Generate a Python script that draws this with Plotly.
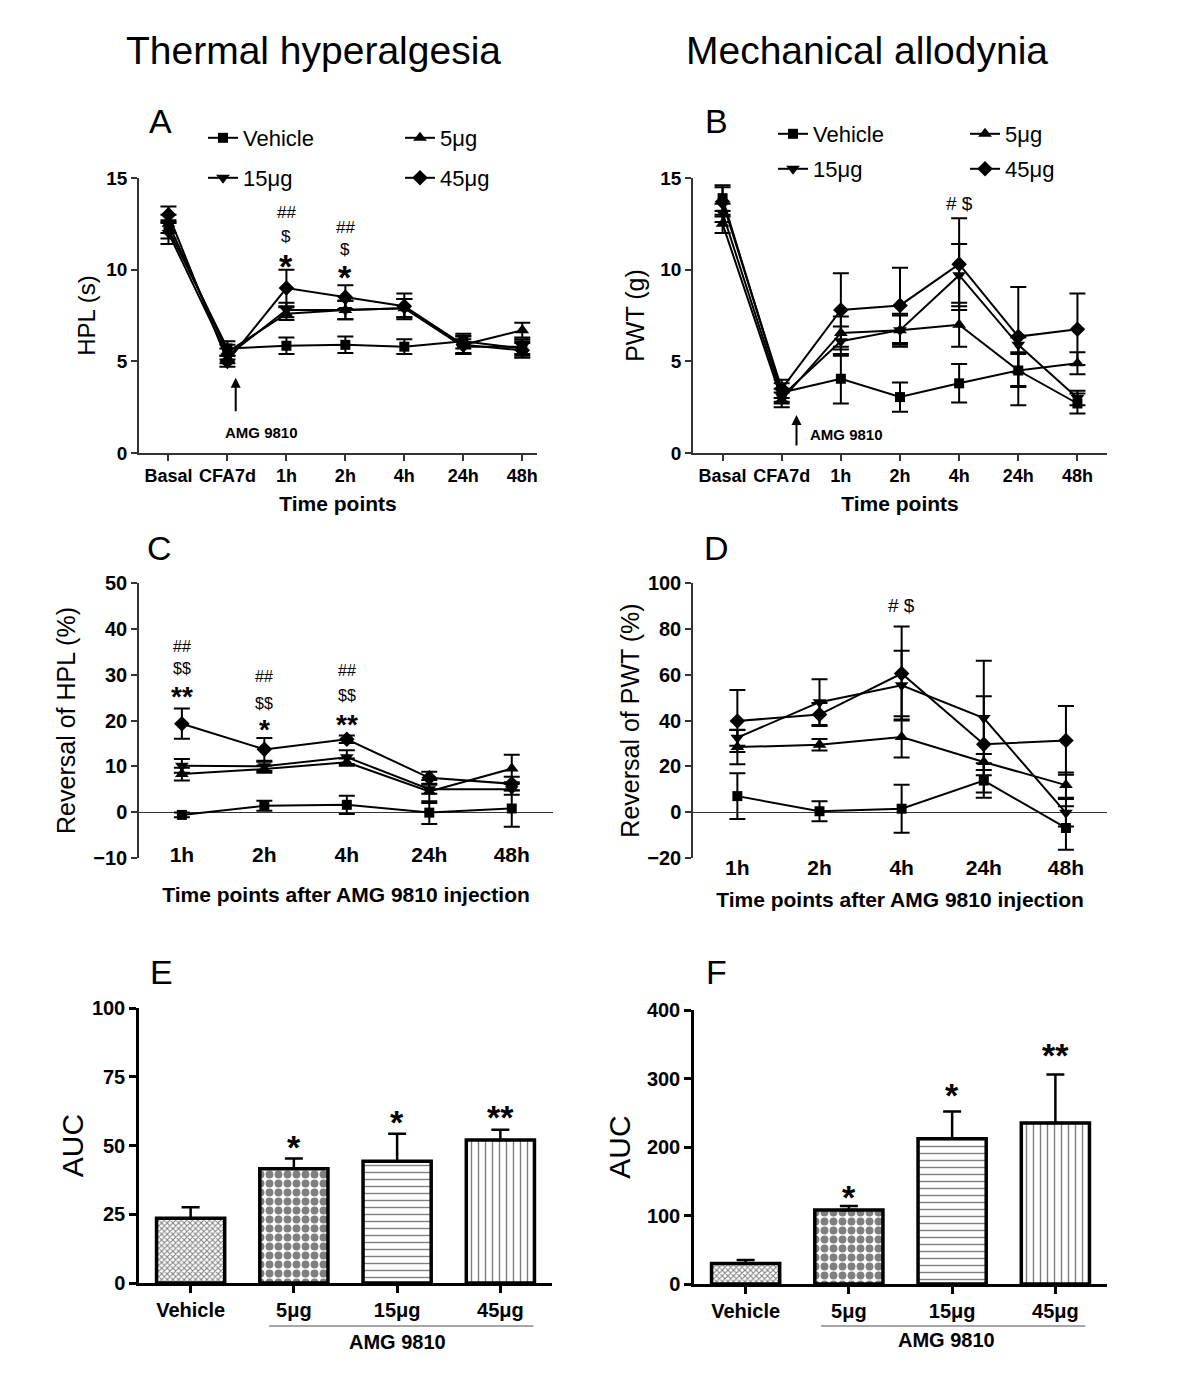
import plotly.graph_objects as go

# ---------------- data ----------------
time_ab = ["Basal", "CFA7d", "1h", "2h", "4h", "24h", "48h"]
time_cd = ["1h", "2h", "4h", "24h", "48h"]
groups = ["Vehicle", "5μg", "15μg", "45μg"]
symbols = ["square", "triangle-up", "triangle-down", "diamond"]

# Panel A: HPL (s)
hpl_vehicle = [12.2, 5.7, 5.85, 5.9, 5.8, 6.1, 5.7]
hpl_5 = [12.5, 5.5, 7.6, 7.8, 7.9, 5.9, 6.7]
hpl_15 = [12.0, 5.3, 7.8, 7.8, 7.9, 5.8, 5.8]
hpl_45 = [13.0, 5.0, 9.0, 8.5, 8.0, 5.9, 5.6]
hpl_vehicle_err = [0.5, 0.4, 0.45, 0.45, 0.4, 0.4, 0.4]
hpl_5_err = [0.5, 0.4, 0.35, 0.5, 0.5, 0.5, 0.4]
hpl_15_err = [0.6, 0.4, 0.4, 0.5, 0.5, 0.4, 0.4]
hpl_45_err = [0.45, 0.3, 1.0, 0.65, 0.7, 0.45, 0.4]

# Panel B: PWT (g)
pwt_vehicle = [13.9, 3.3, 4.05, 3.05, 3.8, 4.5, 2.7]
pwt_5 = [12.5, 2.9, 6.55, 6.7, 7.0, 4.5, 4.9]
pwt_15 = [13.1, 3.1, 6.1, 6.7, 9.7, 5.9, 3.0]
pwt_45 = [13.7, 3.5, 7.8, 8.05, 10.3, 6.35, 6.75]
pwt_vehicle_err = [0.7, 0.5, 1.35, 0.8, 1.05, 1.9, 0.55]
pwt_5_err = [0.5, 0.4, 0.9, 0.8, 1.2, 0.9, 0.6]
pwt_15_err = [0.5, 0.4, 0.8, 0.9, 1.7, 0.4, 0.4]
pwt_45_err = [0.8, 0.5, 2.0, 2.05, 2.5, 2.7, 1.95]

# Panel C: reversal of HPL (%)
rhpl_vehicle = [-0.6, 1.4, 1.6, -0.1, 0.8]
rhpl_5 = [8.3, 9.4, 10.9, 4.5, 9.5]
rhpl_15 = [10.1, 10.0, 12.0, 5.0, 5.0]
rhpl_45 = [19.3, 13.7, 15.9, 7.5, 6.2]
rhpl_vehicle_err = [0.5, 1.1, 2.0, 2.5, 4.0]
rhpl_5_err = [1.4, 0.8, 0.8, 2.5, 3.0]
rhpl_15_err = [1.5, 1.0, 1.5, 1.0, 1.2]
rhpl_45_err = [3.3, 2.5, 0.8, 1.3, 1.5]

# Panel D: reversal of PWT (%)
rpwt_vehicle = [7.0, 0.4, 1.5, 13.8, -6.9]
rpwt_5 = [28.4, 29.4, 32.8, 21.9, 11.8]
rpwt_15 = [32.5, 48.0, 55.4, 41.1, -0.3]
rpwt_45 = [39.8, 42.6, 60.5, 29.6, 31.3]
rpwt_vehicle_err = [10.0, 4.4, 10.5, 7.5, 9.5]
rpwt_5_err = [7.5, 2.5, 9.0, 3.5, 5.5]
rpwt_15_err = [3.5, 10.0, 15.0, 25.0, 6.0]
rpwt_45_err = [13.5, 5.0, 20.5, 21.0, 15.0]

# Panels E, F: AUC
auc_hpl = [23.5, 41.5, 44.3, 52.0]
auc_hpl_err = [4.0, 3.8, 10.0, 3.7]
auc_pwt = [30, 108, 212, 235]
auc_pwt_err = [5, 6, 40, 71]

# significance marks
sig_a = [("1h", ["##", "$", "*"]), ("2h", ["##", "$", "*"])]
sig_c = [("1h", ["##", "$$", "**"]), ("2h", ["##", "$$", "*"]), ("4h", ["##", "$$", "**"])]
sig_e = ["", "*", "*", "**"]
sig_f = ["", "*", "*", "**"]

# ---------------- layout helpers ----------------
W, H = 1200, 1400
FONT = "Arial, 'Liberation Sans', sans-serif"
PAGE_OFFSET = 8  # default page margin around the plot div


def fx(p):
    return (p - PAGE_OFFSET) / W


def fy(p):
    return 1 - (p - PAGE_OFFSET) / H


fig = go.Figure()


def add_lines(xs, series, errs, xa, ya, legends=None):
    for i, (name, sym, y, e) in enumerate(zip(groups, symbols, series, errs)):
        if legends:
            kw = dict(showlegend=True, legend=legends[i])
        else:
            kw = dict(showlegend=False)
        fig.add_trace(go.Scatter(
            x=xs, y=y, name=name, mode="lines+markers",
            xaxis=xa, yaxis=ya,
            line=dict(color="black", width=2),
            marker=dict(symbol=sym, size=12 if sym != "square" else 10, color="black"),
            error_y=dict(type="data", array=e, visible=True, color="black", thickness=2, width=8),
            **kw))


add_lines(time_ab, [hpl_vehicle, hpl_5, hpl_15, hpl_45],
          [hpl_vehicle_err, hpl_5_err, hpl_15_err, hpl_45_err], "x", "y",
          legends=["legend", "legend", "legend2", "legend2"])
add_lines(time_ab, [pwt_vehicle, pwt_5, pwt_15, pwt_45],
          [pwt_vehicle_err, pwt_5_err, pwt_15_err, pwt_45_err], "x2", "y2",
          legends=["legend3", "legend3", "legend4", "legend4"])
add_lines(time_cd, [rhpl_vehicle, rhpl_5, rhpl_15, rhpl_45],
          [rhpl_vehicle_err, rhpl_5_err, rhpl_15_err, rhpl_45_err], "x3", "y3")
add_lines(time_cd, [rpwt_vehicle, rpwt_5, rpwt_15, rpwt_45],
          [rpwt_vehicle_err, rpwt_5_err, rpwt_15_err, rpwt_45_err], "x4", "y4")

pattern = dict(shape=["x", ".", "-", "|"], size=[4, 9, 7, 7],
               solidity=[0.45, 0.6, 0.2, 0.2], fgcolor="black", bgcolor="white")
for vals, errs, xa, ya in [(auc_hpl, auc_hpl_err, "x5", "y5"), (auc_pwt, auc_pwt_err, "x6", "y6")]:
    fig.add_trace(go.Bar(
        x=groups, y=vals, xaxis=xa, yaxis=ya, width=0.66, showlegend=False,
        marker=dict(color="white", line=dict(color="black", width=3.5), pattern=pattern),
        error_y=dict(type="data", array=errs, arrayminus=[0] * len(errs), symmetric=False,
                     color="black", thickness=2.5, width=9)))


# ---------------- axes ----------------
def tick_bold(s):
    return dict(family=FONT, size=s, color="black", weight="bold")


line_ax = dict(showline=True, linecolor="#333", linewidth=1.5, ticks="outside",
               tickcolor="#333", tickwidth=1.5, ticklen=6, showgrid=False, zeroline=False,
               automargin=False)

layout = dict(
    width=W, height=H, margin=dict(l=0, r=0, t=0, b=0, autoexpand=False),
    paper_bgcolor="white", plot_bgcolor="white", hovermode=False,
    font=dict(family=FONT, color="black"),
)

# A
layout["xaxis"] = dict(domain=[fx(139), fx(537)], anchor="y", range=[-0.5, 6.25],
                       tickfont=tick_bold(18), **line_ax,
                       title=dict(text="Time points", font=tick_bold(21), standoff=11))
layout["yaxis"] = dict(domain=[fy(453), fy(178)], anchor="x", range=[0, 15], tickvals=[0, 5, 10, 15],
                       tickfont=tick_bold(19), **line_ax,
                       title=dict(text="HPL (s)", font=dict(family=FONT, size=24), standoff=4))
# B
layout["xaxis2"] = dict(domain=[fx(693), fx(1107)], anchor="y2", range=[-0.5, 6.5],
                        tickfont=tick_bold(18), **line_ax,
                        title=dict(text="Time points", font=tick_bold(21), standoff=11))
layout["yaxis2"] = dict(domain=[fy(453), fy(178)], anchor="x2", range=[0, 15], tickvals=[0, 5, 10, 15],
                        tickfont=tick_bold(19), **line_ax,
                        title=dict(text="PWT (g)", font=dict(family=FONT, size=25), standoff=9))
# C
layout["xaxis3"] = dict(domain=[fx(139), fx(553)], anchor="free", position=fy(840), range=[-0.52, 4.5],
                        showline=False, ticks="", showgrid=False, zeroline=False, automargin=False,
                        tickfont=tick_bold(21),
                        title=dict(text="Time points after AMG 9810 injection", font=tick_bold(21), standoff=22))
layout["xaxis7"] = dict(overlaying="x3", anchor="free", position=fy(812), range=[-0.52, 4.5],
                        type="category", categoryarray=time_cd, categoryorder="array",
                        showline=False, ticks="outside", ticklen=7, tickcolor="#333", tickwidth=1.2,
                        showticklabels=False, showgrid=False, zeroline=False, automargin=False)
layout["yaxis3"] = dict(domain=[fy(858), fy(583)], anchor="x3", range=[-10, 50], dtick=10,
                        showline=True, linecolor="#333", linewidth=1.5, ticks="outside",
                        tickcolor="#333", tickwidth=1.5, ticklen=6, showgrid=False,
                        zeroline=True, zerolinecolor="#333", zerolinewidth=1, automargin=False,
                        tickfont=tick_bold(20),
                        title=dict(text="Reversal of HPL (%)", font=dict(family=FONT, size=25), standoff=11))
# D
layout["xaxis4"] = dict(domain=[fx(693), fx(1107)], anchor="free", position=fy(853), range=[-0.54, 4.5],
                        showline=False, ticks="", showgrid=False, zeroline=False, automargin=False,
                        tickfont=tick_bold(21),
                        title=dict(text="Time points after AMG 9810 injection", font=tick_bold(21), standoff=14))
layout["xaxis8"] = dict(overlaying="x4", anchor="free", position=fy(812), range=[-0.54, 4.5],
                        type="category", categoryarray=time_cd, categoryorder="array",
                        showline=False, ticks="outside", ticklen=7, tickcolor="#333", tickwidth=1.2,
                        showticklabels=False, showgrid=False, zeroline=False, automargin=False)
layout["yaxis4"] = dict(domain=[fy(858), fy(583)], anchor="x4", range=[-20, 100], dtick=20,
                        showline=True, linecolor="#333", linewidth=1.5, ticks="outside",
                        tickcolor="#333", tickwidth=1.5, ticklen=6, showgrid=False,
                        zeroline=True, zerolinecolor="#333", zerolinewidth=1, automargin=False,
                        tickfont=tick_bold(20),
                        title=dict(text="Reversal of PWT (%)", font=dict(family=FONT, size=25), standoff=1))
# E, F
bar_ax = dict(showline=True, linecolor="black", linewidth=2.5, ticks="outside",
              tickcolor="black", tickwidth=2.5, ticklen=7, showgrid=False, zeroline=False,
              automargin=False)
layout["xaxis5"] = dict(domain=[fx(139), fx(552)], anchor="y5", range=[-0.5, 3.5],
                        tickfont=tick_bold(20), **bar_ax)
layout["yaxis5"] = dict(domain=[fy(1283), fy(1008)], anchor="x5", range=[0, 100], dtick=25,
                        tickfont=tick_bold(20), **bar_ax,
                        title=dict(text="AUC", font=dict(family=FONT, size=30), standoff=0))
layout["xaxis6"] = dict(domain=[fx(694), fx(1107)], anchor="y6", range=[-0.5, 3.5],
                        tickfont=tick_bold(20), **bar_ax)
layout["yaxis6"] = dict(domain=[fy(1284), fy(1010)], anchor="x6", range=[0, 400], dtick=100,
                        tickfont=tick_bold(20), **bar_ax,
                        title=dict(text="AUC", font=dict(family=FONT, size=30), standoff=8))

# legends
leg_common = dict(orientation="h", xanchor="left", yanchor="middle", bgcolor="rgba(0,0,0,0)",
                  font=dict(family=FONT, size=22, color="black"))
layout["legend"] = dict(x=fx(203), y=fy(138), entrywidth=152, **leg_common)
layout["legend2"] = dict(x=fx(203), y=fy(178), entrywidth=152, **leg_common)
layout["legend3"] = dict(x=fx(773), y=fy(134), entrywidth=147, **leg_common)
layout["legend4"] = dict(x=fx(773), y=fy(169), entrywidth=147, **leg_common)

fig.update_layout(**layout)

# ---------------- annotations ----------------
ann = []


def txt(text, x, y, size, xref="paper", yref="paper", bold=False, xanchor="center", yshift=0):
    ann.append(dict(text=("<b>%s</b>" % text) if bold else text, x=x, y=y, xref=xref, yref=yref,
                    showarrow=False, xanchor=xanchor, yanchor="middle", yshift=yshift,
                    font=dict(family=FONT, size=size, color="black")))


txt("Thermal hyperalgesia", fx(313), fy(50), 39)
txt("Mechanical allodynia", fx(867), fy(50), 39)
for letter, px, py in [("A", 160, 121), ("B", 716, 121), ("C", 159, 548),
                       ("D", 716, 548), ("E", 161, 972), ("F", 716, 972)]:
    txt(letter, fx(px), fy(py), 34)

# A significance
a_levels = {"1h": [13.1, 11.8, 10.6], "2h": [12.3, 11.1, 10.0]}
for cat, marks in sig_a:
    for m, yv in zip(marks, a_levels[cat]):
        size = 34 if "*" in m else 17
        txt(m, time_ab.index(cat), yv, size, xref="x", yref="y", bold="*" in m,
            yshift=-7 if "*" in m else 0)
txt("# $", 4, 13.6, 19, xref="x2", yref="y2")

# C significance
c_levels = {"1h": [36.2, 31.4, 26.6], "2h": [29.5, 23.8, 19.4], "4h": [31.0, 25.5, 20.5]}
for cat, marks in sig_c:
    for m, yv in zip(marks, c_levels[cat]):
        size = 28 if "*" in m else 16
        txt(m, time_cd.index(cat), yv, size, xref="x3", yref="y3", bold="*" in m,
            yshift=-6 if "*" in m else 0)
txt("# $", 2, 90.3, 19, xref="x4", yref="y4")

# E, F significance (above error bars)
e_levels = [0, 52, 61, 63]
f_levels = [0, 137, 286, 344]
for i, m in enumerate(sig_e):
    if m:
        txt(m, i, e_levels[i], 34, xref="x5", yref="y5", bold=True, yshift=-7)
for i, m in enumerate(sig_f):
    if m:
        txt(m, i, f_levels[i], 34, xref="x6", yref="y6", bold=True, yshift=-7)

# AMG 9810 injection arrows
ann.append(dict(x=1.14, y=4.1, ax=1.14, ay=2.2, xref="x", yref="y", axref="x", ayref="y",
                showarrow=True, arrowhead=2, arrowsize=1, arrowwidth=2, arrowcolor="black", text=""))
txt("AMG 9810", 1.58, 1.1, 15, xref="x", yref="y", bold=True)
ann.append(dict(x=1.25, y=2.07, ax=1.25, ay=0.33, xref="x2", yref="y2", axref="x2", ayref="y2",
                showarrow=True, arrowhead=2, arrowsize=1, arrowwidth=2, arrowcolor="black", text=""))
txt("AMG 9810", 1.45, 1.0, 15, xref="x2", yref="y2", bold=True, xanchor="left")

# AMG 9810 group labels under bars
txt("AMG 9810", 2.0, fy(1342), 20, xref="x5", yref="paper", bold=True)
txt("AMG 9810", 1.95, fy(1340), 20, xref="x6", yref="paper", bold=True)

shapes = [
    dict(type="line", xref="x5", yref="paper", x0=0.76, x1=3.32, y0=fy(1326), y1=fy(1326),
         line=dict(color="#888", width=1.5)),
    dict(type="line", xref="x6", yref="paper", x0=0.73, x1=3.29, y0=fy(1326), y1=fy(1326),
         line=dict(color="#888", width=1.5)),
]

fig.update_layout(annotations=ann, shapes=shapes)
fig.write_html("out.html")
